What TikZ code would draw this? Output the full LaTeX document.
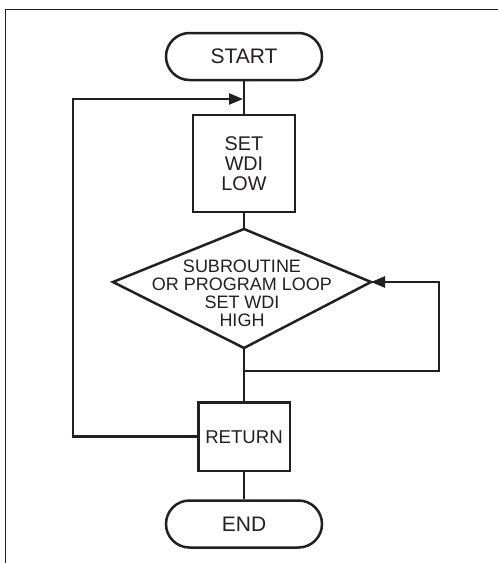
\documentclass[tikz,border=0pt]{standalone}
\usepackage{fontspec}
\setmainfont{Liberation Sans}
\usepackage{tikz}
\usetikzlibrary{arrows.meta}
\definecolor{ink}{RGB}{35,31,32}
\tikzset{
        fc_node/.style = {align=center, inner sep=0pt, text centered, ink},
        fc_t/.style = {fc_node, draw=ink, line width=2.5pt, rounded corners=23.5pt,
            minimum width=156pt, minimum height=47pt,
            font=\fontsize{21}{21}\selectfont},
        fc_b/.style = {fc_node, rectangle, draw=ink, line width=2.5pt,
            font=\fontsize{19.8}{20.3}\selectfont},
        fc_d/.style = {fc_node, font=\fontsize{18}{18}\selectfont}
    }

\begin{document}
\begin{tikzpicture}[x=1pt, y=-1pt, line width=2.5pt, draw=ink,
            >={Triangle[length=14pt,width=11pt]}]
            \useasboundingbox (0,0) rectangle (498,563);
            \clip (0,0) rectangle (498,563);
            \draw[line width=1.3pt] (5.5,9.5) rectangle (560,620); % FRAME
            \node [fc_t] (start) at (244,56.5) {START};
            \node [fc_b, minimum width=102pt, minimum height=97pt] (set) at (244,163.5) {SET\\WDI\\LOW};
            % decision
            \coordinate (d_top) at (244,229);
            \coordinate (d_r) at (371,282);
            \coordinate (d_bot) at (244,348);
            \coordinate (d_l) at (113,282);
            \draw (d_top) -- (d_r) -- (d_bot) -- (d_l) -- cycle;
            \node [fc_d] (sub) at (242,293.3) {SUBROUTINE\\OR PROGRAM LOOP\\SET WDI\\HIGH};
            \node [fc_b, minimum width=91.5pt, minimum height=68.7pt,
                font=\fontsize{18.6}{19}\selectfont] (ret) at (244,436.7) {RETURN};
            \node [fc_t] (end) at (244,524) {END};
            \draw (start) -- (set);
            \draw (set) -- (d_top);
            \draw (d_bot) -- (ret);
            \draw (ret) -- (end);
            % loops
            \coordinate (j_low) at (244,371);
            \coordinate (lp_r) at (439,282);
            \draw[->] (j_low) -| (lp_r) -- (d_r);
            \coordinate (lp_l) at (73,99);
            \coordinate (j_top) at (243,99);
            \draw[->] (ret.west) -| (lp_l) -- (j_top);
        \end{tikzpicture}
\end{document}
